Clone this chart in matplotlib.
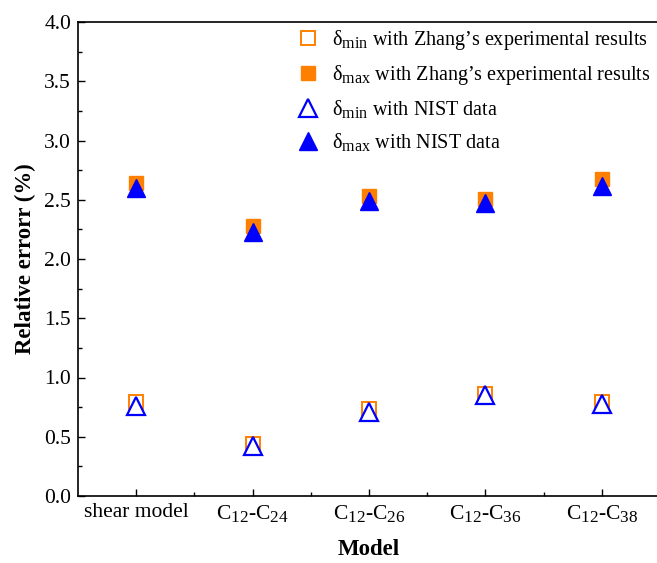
import matplotlib
matplotlib.use("Agg")
import matplotlib.pyplot as plt
import matplotlib._mathtext as _mt
from matplotlib.ticker import MultipleLocator, FixedLocator

plt.rcParams['font.family'] = ['Liberation Serif', 'DejaVu Serif']
plt.rcParams['mathtext.fontset'] = 'custom'
plt.rcParams['mathtext.rm'] = 'Liberation Serif'
plt.rcParams['mathtext.it'] = 'Liberation Serif:italic'
plt.rcParams['mathtext.bf'] = 'Liberation Serif:bold'
# slightly larger subscripts than the mathtext default
_mt.SHRINK_FACTOR = 0.8

models = ['shear model', r'C$_{12}$-C$_{24}$', r'C$_{12}$-C$_{26}$',
          r'C$_{12}$-C$_{36}$', r'C$_{12}$-C$_{38}$']
zhang_min = [0.79, 0.44, 0.73, 0.86, 0.79]
zhang_max = [2.64, 2.28, 2.53, 2.51, 2.675]
nist_min = [0.76, 0.42, 0.71, 0.85, 0.78]
nist_max = [2.60, 2.23, 2.49, 2.47, 2.62]

orange = '#FF8000'
blue = '#0000FF'

fig = plt.figure(figsize=(6.57, 5.63), dpi=100)
W, H = 657, 563
ax = fig.add_axes([78 / W, (H - 496) / H, 582 / W, 474 / H])

x = list(range(len(models)))
ax.plot(x, zhang_min, ls='none', marker='s', ms=10, mfc='white', mec=orange, mew=1.4,
        label='δ$_{\\rm min}$ with Zhang’s experimental results')
ax.plot(x, zhang_max, ls='none', marker='s', ms=10, mfc=orange, mec=orange, mew=1.0,
        label='δ$_{\\rm max}$ with Zhang’s experimental results')
ax.plot(x, nist_min, ls='none', marker='^', ms=12.5, mfc='white', mec=blue, mew=1.6,
        label='δ$_{\\rm min}$ with NIST data')
ax.plot(x, nist_max, ls='none', marker='^', ms=12.5, mfc=blue, mec=blue, mew=1.0,
        label='δ$_{\\rm max}$ with NIST data')

ax.set_xlim(-0.5, 4.5)
ax.set_ylim(0, 4.0)
ax.set_xticks(x)
ax.set_xticklabels(models)
ax.xaxis.set_minor_locator(FixedLocator([0.5, 1.5, 2.5, 3.5]))
ax.yaxis.set_major_locator(MultipleLocator(0.5))
ax.yaxis.set_minor_locator(MultipleLocator(0.25))
ax.tick_params(which='both', direction='in', labelsize=15.5, width=1.0)
ax.tick_params(which='major', length=5, pad=5)
ax.tick_params(which='minor', length=3)
for s in ax.spines.values():
    s.set_linewidth(1.2)

ax.set_xlabel('Model', fontsize=16.5, fontweight='bold', labelpad=11)
ax.set_ylabel('Relative errorr (%)', fontsize=16.5, fontweight='bold', labelpad=6)

ax.legend(loc='upper left', bbox_to_anchor=(298 / W, 1 - 28 / H),
          bbox_transform=fig.transFigure, frameon=False, fontsize=14.5,
          handlelength=1.0, handletextpad=0.7, labelspacing=0.55,
          borderaxespad=0, borderpad=0)

fig.savefig('out.png', dpi=100)
